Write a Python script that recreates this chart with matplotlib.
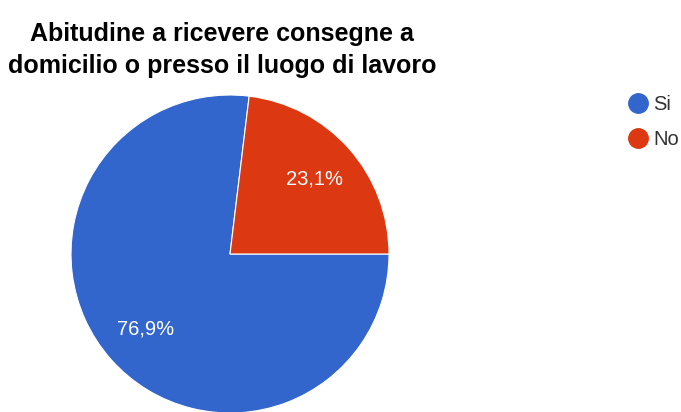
import matplotlib.pyplot as plt
from matplotlib.lines import Line2D

# Abitudine a ricevere consegne
labels = ['Si', 'No']
values = [10, 3]
colors = ['#3366CC', '#DC3912']
title = 'Abitudine a ricevere consegne a\ndomicilio o presso il luogo di lavoro'

plt.rcParams['font.family'] = ['Liberation Sans', 'DejaVu Sans']

fig = plt.figure(figsize=(6.81, 4.12), dpi=100)

# pie axes, placed in pixels: centre ~ (230, 254), radius ~ 159
W, H = 681, 412
cx, cy, r = 230, 254, 159
ax = fig.add_axes([(cx - r) / W, (H - cy - r) / H, 2 * r / W, 2 * r / H])

wedges, texts, autotexts = ax.pie(values, colors=colors, startangle=0, counterclock=False,
                                  autopct=lambda p: '{:.1f}%'.format(p).replace('.', ','),
                                  pctdistance=0.71,
                                  wedgeprops=dict(edgecolor='white', linewidth=0.8),
                                  textprops=dict(color='white', fontsize=14.5))
for w in wedges:
    w.set_clip_on(False)
ax.set_xlim(-1, 1)
ax.set_ylim(-1, 1)
ax.set_aspect('equal')
ax.axis('off')

fig.text(222 / W, 1 - 50 / H, title, ha='center', va='center', fontsize=18,
         fontweight='bold', color='black', linespacing=1.45)

# legend
handles = [Line2D([], [], marker='o', linestyle='', markersize=14, color=c) for c in colors]
fig.legend(handles, labels, loc='upper left', bbox_to_anchor=(618 / W, 1 - 87 / H),
           frameon=False, fontsize=14.5, handletextpad=0.15, labelspacing=0.8,
           labelcolor='#333333', handlelength=1.2, borderaxespad=0)

fig.savefig('out.png', dpi=100)
